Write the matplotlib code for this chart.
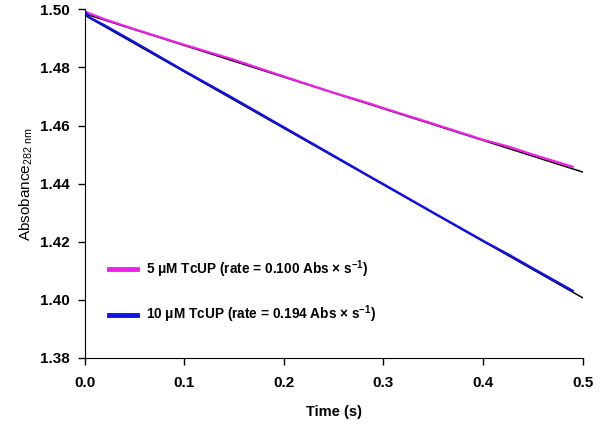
import numpy as np
import matplotlib as mpl
import matplotlib.pyplot as plt

# values
time_5uM = [0.000, 0.002, 0.005, 0.02, 0.05, 0.10, 0.136, 0.146, 0.20, 0.25, 0.286, 0.30, 0.35, 0.40, 0.427, 0.45, 0.49]
abs_5uM = [1.4993, 1.4990, 1.4986, 1.4966, 1.4932, 1.4878, 1.4841, 1.4831, 1.4769, 1.4713, 1.4676, 1.4660, 1.4606, 1.4551, 1.4526, 1.4500, 1.4458]

time_10uM = [0.000, 0.002, 0.005, 0.02, 0.05, 0.10, 0.146, 0.20, 0.25, 0.286, 0.30, 0.35, 0.40, 0.427, 0.45, 0.49]
abs_10uM = [1.4995, 1.4985, 1.4972, 1.4945, 1.4887, 1.4788, 1.4700, 1.4594, 1.4496, 1.4425, 1.4398, 1.4300, 1.4203, 1.4153, 1.4108, 1.4031]

# linear fits (black lines), endpoints at t = 0 and t = 0.5
fit_time = [0.0, 0.5]
fit_5uM = [1.4985, 1.4440]
fit_10uM = [1.4980, 1.4007]

labels = ['5 \u03bcM TcUP (rate = 0.100 Abs \u00d7 s$^{-1}$)',
          '10 \u03bcM TcUP (rate = 0.194 Abs \u00d7 s$^{-1}$)']
colors = ['#f020e8', '#1010e8']

plt.rcParams['font.family'] = ['Liberation Sans', 'DejaVu Sans']
plt.rcParams['mathtext.fontset'] = 'custom'
plt.rcParams['mathtext.rm'] = 'Liberation Sans:bold'
plt.rcParams['mathtext.sf'] = 'Liberation Sans'
plt.rcParams['mathtext.default'] = 'rm'

fig = plt.figure(figsize=(6, 4.26), dpi=100)
ax = fig.add_axes([0.141, 0.160, 0.830, 0.818])

ax.plot(fit_time, fit_5uM, color='black', lw=1.1, zorder=2)
ax.plot(fit_time, fit_10uM, color='black', lw=1.1, zorder=2)
ax.plot(time_5uM, abs_5uM, color=colors[0], lw=1.6, zorder=3, label=labels[0])
ax.plot(time_10uM, abs_10uM, color=colors[1], lw=1.7, zorder=3, label=labels[1])

ax.set_xlim(0, 0.5)
ax.set_ylim(1.38, 1.50)
ax.set_xticks(np.arange(0, 0.51, 0.1))
ax.set_yticks(np.arange(1.38, 1.501, 0.02))
ax.xaxis.set_major_formatter(mpl.ticker.FormatStrFormatter('%.1f'))
ax.yaxis.set_major_formatter(mpl.ticker.FormatStrFormatter('%.2f'))
ax.tick_params(direction='out', length=5, width=1, labelsize=11)
ax.tick_params(axis='x', pad=8)
ax.tick_params(axis='y', pad=6)
for lab in ax.get_xticklabels() + ax.get_yticklabels():
    lab.set_fontweight('bold')

ax.spines['top'].set_visible(False)
ax.spines['right'].set_visible(False)

ax.set_xlabel('Time (s)', fontsize=10.5, fontweight='bold', labelpad=11)
ax.set_ylabel(r'Absobance$_{\mathsf{282\ nm}}$', fontsize=11, labelpad=3)

leg = ax.legend(loc='upper left', bbox_to_anchor=(0.035, 0.305), frameon=False,
                handlelength=2.1, handletextpad=0.6, labelspacing=1.75,
                borderpad=0, prop={'size': 9.8, 'weight': 'bold'})
for h in leg.get_lines():
    h.set_linewidth(3.5)

fig.savefig('out.png', dpi=100)
